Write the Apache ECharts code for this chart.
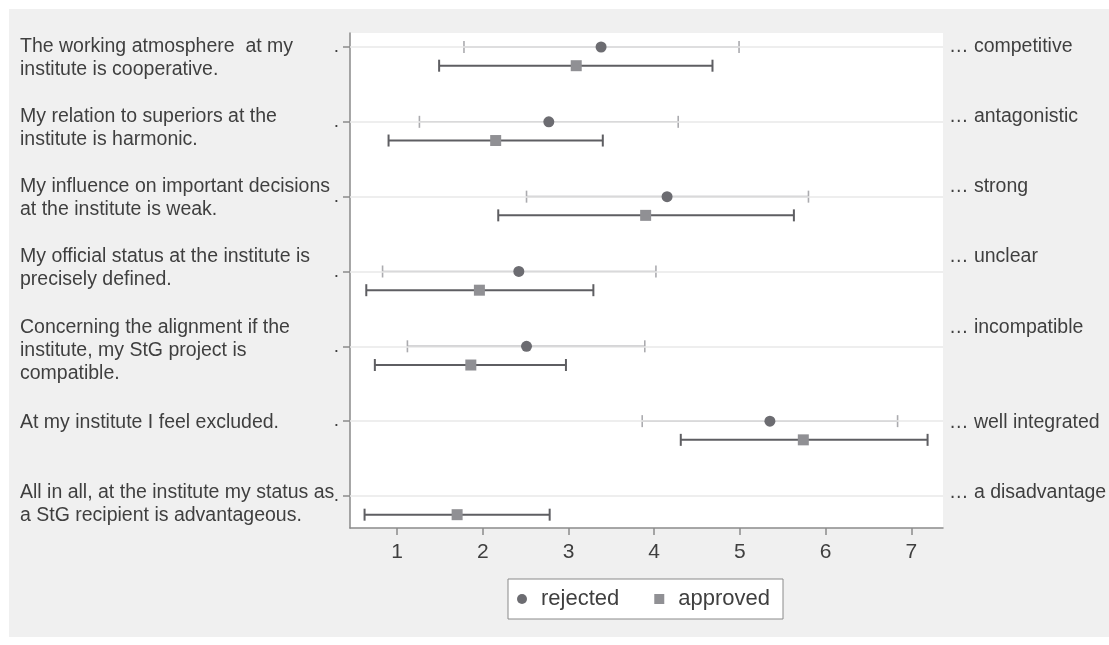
<!DOCTYPE html>
<html>
<head>
<meta charset="utf-8">
<script src="https://cdn.jsdelivr.net/npm/echarts@6/dist/echarts.min.js"></script>
<style>
  html, body { margin: 0; padding: 0; background: #ffffff; }
  #chart { position: absolute; left: 9px; top: 9px; width: 1100px; height: 628px; }
</style>
</head>
<body>
<div id="chart"></div>
<script>
// Survey items (left) and the opposite pole of each scale (right)
const items = [
  'The working atmosphere  at my\ninstitute is cooperative.',
  'My relation to superiors at the\ninstitute is harmonic.',
  'My influence on important decisions\nat the institute is weak.',
  'My official status at the institute is\nprecisely defined.',
  'Concerning the alignment if the\ninstitute, my StG project is\ncompatible.',
  'At my institute I feel excluded.',
  'All in all, at the institute my status as\na StG recipient is advantageous.'
];
const poles = [
  '… competitive',
  '… antagonistic',
  '… strong',
  '… unclear',
  '… incompatible',
  '… well integrated',
  '… a disadvantage'
];

// Mean and interval bounds per item, 7-point scale
const rejectedMean = [3.38, 2.77, 4.15, 2.42, 2.51, 5.35, null];
const rejectedLow  = [1.78, 1.26, 2.51, 0.83, 1.12, 3.86, null];
const rejectedHigh = [4.99, 4.28, 5.80, 4.02, 3.89, 6.84, null];

const approvedMean = [3.09, 2.15, 3.90, 1.96, 1.86, 5.74, 1.70];
const approvedLow  = [1.49, 0.90, 2.18, 0.64, 0.74, 4.31, 0.62];
const approvedHigh = [4.68, 3.40, 5.63, 3.29, 2.97, 7.19, 2.78];

const xTicks = [1, 2, 3, 4, 5, 6, 7];

// Layout constants
const APPROVED_OFFSET = 0.25;               // approved row sits just below the item line
const LABEL_SHIFT = [0, -5, -10, -15, -19, 1, -3]; // px shift of label blocks per item
const FONT = '"Liberation Sans", Arial, Helvetica, sans-serif';
const TEXT = '#3f3f3f';
const AXIS = '#8a8a8a';

const rowPos = items.map((_, i) => i + 1);

function buildPoints(mean, offset) {
  const out = [];
  mean.forEach((m, i) => { if (m != null) out.push([m, rowPos[i] + offset]); });
  return out;
}
function buildBars(low, high, offset) {
  const out = [];
  low.forEach((l, i) => { if (l != null) out.push([l, high[i], rowPos[i] + offset]); });
  return out;
}

function errorBar(color, width, capHalf) {
  return function (params, api) {
    const y = api.value(2);
    const a = api.coord([api.value(0), y]);
    const b = api.coord([api.value(1), y]);
    const style = { stroke: color, lineWidth: width };
    return {
      type: 'group',
      children: [
        { type: 'line', shape: { x1: a[0], y1: a[1], x2: b[0], y2: b[1] }, style },
        { type: 'line', shape: { x1: a[0], y1: a[1] - capHalf, x2: a[0], y2: a[1] + capHalf }, style },
        { type: 'line', shape: { x1: b[0], y1: b[1] - capHalf, x2: b[0], y2: b[1] + capHalf }, style }
      ]
    };
  };
}

const chart = echarts.init(document.getElementById('chart'), null, { renderer: 'canvas' });

const option = {
  backgroundColor: '#f0f0f0',
  animation: false,
  textStyle: { fontFamily: FONT },
  grid: {
    left: 341, top: 24, width: 593, height: 495,
    show: true, backgroundColor: '#ffffff', borderWidth: 0
  },
  xAxis: {
    type: 'value', min: 0.45, max: 7.37,
    axisLine: { show: true, lineStyle: { color: AXIS, width: 1.5 } },
    axisTick: { show: true, customValues: xTicks, length: 7, lineStyle: { color: AXIS, width: 1.5 } },
    axisLabel: { customValues: xTicks, color: TEXT, fontSize: 21, margin: 14, fontFamily: FONT },
    splitLine: { show: false }
  },
  yAxis: {
    type: 'value', inverse: true, min: 0.813, max: 7.428,
    axisLine: { show: true, lineStyle: { color: AXIS, width: 1.5 } },
    axisTick: { show: true, customValues: rowPos, length: 7, lineStyle: { color: AXIS, width: 1.5 } },
    axisLabel: { customValues: rowPos, formatter: () => '.', color: TEXT, fontSize: 19, margin: 11, fontFamily: FONT },
    splitLine: { show: false }
  },
  legend: {
    data: [
      { name: 'rejected', icon: 'circle' },
      { name: 'approved', icon: 'rect' }
    ],
    left: 499, top: 570,
    orient: 'horizontal',
    backgroundColor: '#ffffff',
    borderColor: '#8a8a8a', borderWidth: 1, borderRadius: 0,
    padding: [9, 13, 9, 9],
    itemWidth: 10, itemHeight: 10, itemGap: 35,
    textStyle: { color: TEXT, fontSize: 22, fontFamily: FONT, padding: [0, 0, 0, 9] },
    selectedMode: false
  },
  series: [
    {
      name: 'grid rows', type: 'line', data: [], silent: true,
      markLine: {
        silent: true, symbol: 'none', label: { show: false },
        lineStyle: { color: '#e8e8e8', width: 1.5, type: 'solid' },
        data: rowPos.map(v => ({ yAxis: v }))
      }
    },
    {
      name: 'rejected CI', type: 'custom', silent: true, z: 3,
      renderItem: errorBar('#ababaf', 1.6, 6),
      data: buildBars(rejectedLow, rejectedHigh, 0)
    },
    {
      name: 'approved CI', type: 'custom', silent: true, z: 3,
      renderItem: errorBar('#5e5e62', 2, 6),
      data: buildBars(approvedLow, approvedHigh, APPROVED_OFFSET)
    },
    {
      name: 'rejected', type: 'scatter', symbol: 'circle', symbolSize: 11, z: 5,
      itemStyle: { color: '#6c6c71', opacity: 1 },
      data: buildPoints(rejectedMean, 0)
    },
    {
      name: 'approved', type: 'scatter', symbol: 'rect', symbolSize: 11, z: 5,
      itemStyle: { color: '#909094', opacity: 1 },
      data: buildPoints(approvedMean, APPROVED_OFFSET)
    }
  ]
};

chart.setOption(option);

// Item texts on the left, scale poles on the right, aligned with each row
const LINE_H = 23;
const texts = [];
rowPos.forEach((r, i) => {
  const y = chart.convertToPixel({ yAxisIndex: 0 }, r) + LABEL_SHIFT[i] - LINE_H / 2;
  texts.push({
    type: 'text', left: 11, top: y, silent: true,
    style: { text: items[i], fill: TEXT, font: '19.5px ' + FONT, lineHeight: LINE_H, textVerticalAlign: 'top' }
  });
  texts.push({
    type: 'text', left: 940, top: y, silent: true,
    style: { text: poles[i], fill: TEXT, font: '19.5px ' + FONT, lineHeight: LINE_H, textVerticalAlign: 'top' }
  });
});
chart.setOption({ graphic: texts });
</script>
</body>
</html>
